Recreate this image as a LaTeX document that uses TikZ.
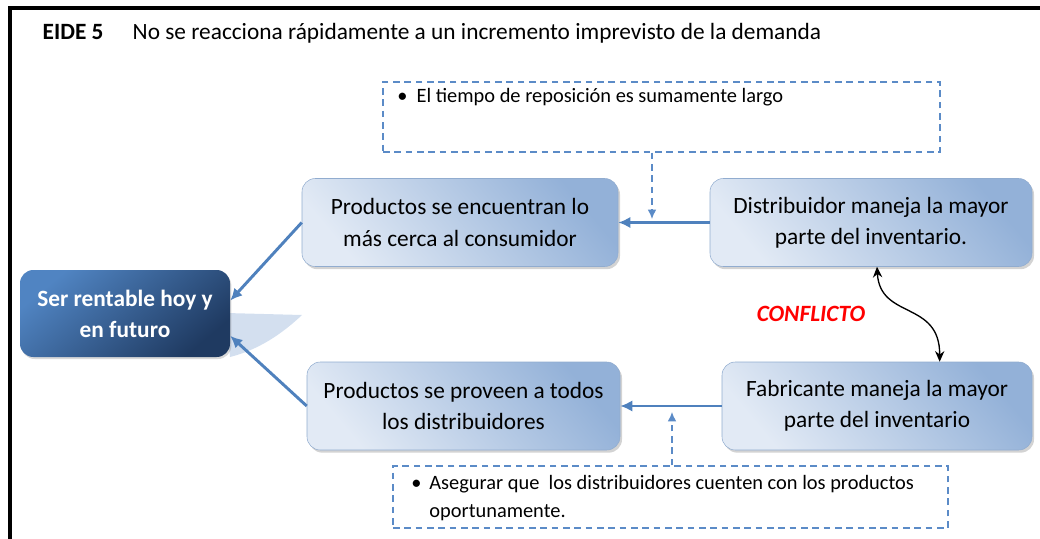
\documentclass[tikz,border=0pt]{standalone}
\usepackage{fontspec}
\setmainfont{Carlito}
\usetikzlibrary{calc,positioning,shadows,arrows.meta}
\definecolor{ArrowBlue}{HTML}{4F81BD}
\definecolor{BoxLight}{HTML}{E2EAF5}
\definecolor{BoxDark}{HTML}{93B1D8}
\definecolor{GoalLight}{HTML}{5084C2}
\definecolor{GoalDark}{HTML}{1F3A61}
\definecolor{NoteBlue}{HTML}{5B8BC7}
\definecolor{WedgeBlue}{HTML}{D3DFEF}
\definecolor{ConflictRed}{HTML}{FF0000}

\begin{document}
\begin{tikzpicture}[
    x=0.75pt, y=-0.75pt,
    every node/.style={font=\fontsize{17.5}{23.3}\selectfont},
    ideabox/.style={rounded corners=10pt,top color=BoxDark,bottom color=BoxLight,shading angle=-50,draw=BoxDark!90!gray,line width=0.4pt,align=center,inner sep=4pt,minimum height=66pt,drop shadow={shadow xshift=1.5pt,shadow yshift=-2pt,opacity=0.35}},
    goalbox/.style={rounded corners=10pt,top color=GoalLight,bottom color=GoalDark,shading angle=40,align=center,text=white,font=\fontsize{17.5}{23.3}\selectfont\bfseries,minimum width=157.5pt,minimum height=65.25pt,drop shadow={shadow xshift=1pt,shadow yshift=-1.5pt,opacity=0.3}},
    notebox/.style={draw=NoteBlue,dashed,dash pattern=on 5pt off 3.5pt,line width=1pt},
    notetext/.style={inner sep=0pt,font=\fontsize{15.3}{21}\selectfont,align=left},
    flow/.style={-{Latex[length=9pt,width=8.5pt]},line width=2.2pt,color=ArrowBlue},
    hint/.style={-{Latex[length=7pt,width=6.5pt]},dashed,dash pattern=on 5pt off 3.5pt,line width=1pt,color=NoteBlue},
    clash/.style={{Stealth[length=8pt,width=7pt]}-{Stealth[length=8pt,width=7pt]},line width=1pt,color=black}
]
  \useasboundingbox (0,0) rectangle (1040,539);
  % frame
  \draw[line width=2.3pt] (10,539) -- (10,8) -- (1040,8);

  % title
  \node[anchor=base west,font=\fontsize{17.5}{23.3}\selectfont\bfseries] (eide) at (38,40) {EIDE 5};
  \node[anchor=base west] (title) at (128,40) {No se reacciona rápidamente a un incremento imprevisto de la demanda};

  % notes
  \node[notebox,minimum width=417.75pt,minimum height=52.5pt] (topnote) at (661.5,117) {};
  \node[notetext,below right=5pt and 11pt of topnote.north west] (toptext) {\textbullet\ \ El tiempo de reposición es sumamente largo};
  \node[notebox,minimum width=416.25pt,minimum height=46.5pt] (botnote) at (670.5,497) {};
  \node[notetext,below right=3.5pt and 14pt of botnote.north west] (bottext) {\begin{tabular}{@{}l@{\hspace{6pt}}l@{}}\textbullet & Asegurar que\ \ los distribuidores cuenten con los productos\\ & oportunamente.\end{tabular}};

  % wedge behind the goal
  \fill[WedgeBlue] (226,313) -- (302,315) .. controls (282,334) and (258,350) .. (230,357) -- cycle;

  \node[goalbox] (goal) at (125,313.5) {Ser rentable hoy y\\en futuro};
  \node[ideabox,minimum width=237pt] (prodA) at (460,222.5) {Productos se encuentran lo\\más cerca al consumidor};
  \node[ideabox,minimum width=241.5pt] (dist) at (871,222.5) {Distribuidor maneja la mayor\\parte del inventario.};
  \node[ideabox,minimum width=234.75pt] (prodB) at (463.5,406) {Productos se proveen a todos\\los distribuidores};
  \node[ideabox,minimum width=232.5pt] (fab) at (877,406) {Fabricante maneja la mayor\\parte del inventario};

  \node[font=\fontsize{17.5}{23.3}\selectfont\bfseries\itshape,text=ConflictRed] (conf) at (811,314) {CONFLICTO};

  \draw[flow] (dist) -- (prodA);
  \draw[flow] (fab) -- (prodB);
  \draw[flow] (prodA.west) -- (goal.7);
  \draw[flow] (prodB.west) -- (goal.-12);

  \coordinate (hitA) at (652,219);
  \coordinate (hitB) at (672,412);
  \draw[hint] (topnote.south -| hitA) -- (hitA);
  \draw[hint] (botnote.north -| hitB) -- (hitB);

  \draw[clash] ([xshift=4.5pt]dist.south) .. controls (880,320) and (940,300) .. ([xshift=47pt]fab.north);
\end{tikzpicture}
\end{document}
